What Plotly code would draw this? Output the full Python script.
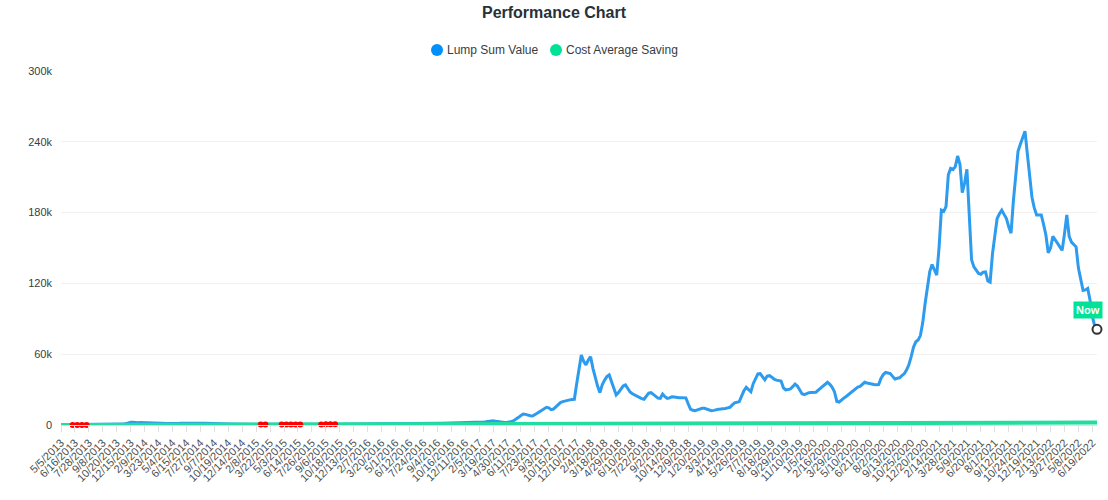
from datetime import datetime, timedelta
import plotly.graph_objects as go

# ---------------- data ----------------
tick_labels = [
    "5/5/2013", "6/16/2013", "7/28/2013", "9/8/2013", "10/20/2013", "12/15/2013",
    "2/9/2014", "3/23/2014", "5/4/2014", "6/15/2014", "7/27/2014", "9/7/2014",
    "10/19/2014", "12/14/2014", "2/8/2015", "3/22/2015", "5/3/2015", "6/14/2015",
    "7/26/2015", "9/6/2015", "10/18/2015", "12/13/2015", "2/7/2016", "3/20/2016",
    "5/1/2016", "6/12/2016", "7/24/2016", "9/4/2016", "10/16/2016", "12/11/2016",
    "2/5/2017", "3/19/2017", "4/30/2017", "6/11/2017", "7/23/2017", "9/3/2017",
    "10/15/2017", "12/10/2017", "2/4/2018", "3/18/2018", "4/29/2018", "6/10/2018",
    "7/22/2018", "9/2/2018", "10/14/2018", "12/9/2018", "1/20/2019", "3/3/2019",
    "4/14/2019", "5/26/2019", "7/7/2019", "8/18/2019", "9/29/2019", "11/10/2019",
    "1/5/2020", "2/16/2020", "3/29/2020", "5/10/2020", "6/21/2020", "8/2/2020",
    "9/13/2020", "10/25/2020", "12/20/2020", "2/14/2021", "3/28/2021", "5/9/2021",
    "6/20/2021", "8/1/2021", "9/12/2021", "10/24/2021", "12/19/2021", "2/13/2022",
    "3/27/2022", "5/8/2022", "6/19/2022",
]
weeks_per_label = 6
weeks_after_last = 3

# Lump Sum Value (thousands), one row per 6-week label group
lump_sum_k = [
    0.30, 0.30, 0.30, 0.30, 0.30, 0.28,
    0.26, 0.25, 0.23, 0.21, 0.20, 0.21,
    0.24, 0.26, 0.27, 0.28, 0.29, 0.30,
    0.32, 0.33, 0.34, 0.33, 0.35, 0.38,
    0.45, 0.52, 0.55, 0.75, 1.20, 1.90,
    2.40, 2.30, 1.90, 2.00, 2.10, 2.00,
    1.70, 1.55, 1.50, 1.55, 1.60, 1.50,
    1.40, 1.20, 1.15, 1.15, 1.20, 1.20,
    1.10, 1.10, 1.20, 1.40, 1.55, 1.60,
    1.50, 1.50, 1.50, 1.55, 1.55, 1.50,
    1.50, 1.45, 1.40, 1.30, 1.20, 1.20,
    1.20, 1.15, 1.00, 0.98, 0.95, 0.98,
    0.95, 0.88, 0.85, 0.90, 0.95, 0.90,
    0.88, 0.82, 0.80, 0.70, 0.68, 0.58,
    0.56, 0.57, 0.58, 0.60, 0.62, 0.65,
    0.65, 0.62, 0.60, 0.56, 0.56, 0.57,
    0.60, 0.60, 0.58, 0.57, 0.57, 0.58,
    0.58, 0.61, 0.63, 0.67, 0.71, 0.72,
    0.72, 0.71, 0.70, 0.64, 0.57, 0.57,
    0.60, 0.59, 0.57, 0.58, 0.59, 0.61,
    0.66, 0.74, 0.81, 0.91, 0.95, 1.01,
    1.08, 1.11, 1.08, 1.11, 1.11, 1.05,
    0.95, 0.98, 1.05, 1.08, 1.05, 1.01,
    1.01, 1.03, 1.05, 1.08, 1.11, 1.11,
    1.11, 1.11, 1.11, 1.22, 1.32, 1.48,
    1.69, 1.82, 1.62, 1.65, 1.65, 1.69,
    1.62, 1.52, 1.42, 1.42, 1.42, 1.48,
    1.52, 1.52, 1.48, 1.52, 1.52, 1.55,
    1.59, 1.69, 1.75, 1.75, 1.79, 1.82,
    1.89, 1.96, 2.23, 2.30, 2.23, 2.30,
    2.40, 2.50, 2.60, 2.80, 3.10, 3.40,
    3.60, 3.20, 2.80, 2.50, 2.30, 2.20,
    2.20, 2.50, 3.00, 3.80, 4.80, 6.50,
    8.0, 9.3, 9.0, 8.3, 7.8, 7.6,
    8.5, 10.0, 11.3, 12.5, 13.8, 15.0,
    14.5, 13.0, 13.5, 15.5, 17.5, 19.0,
    19.8, 20.5, 21.0, 21.3, 21.6, 21.8,
    35.0, 48.0, 59.3, 54.0, 51.0, 55.0,
    57.9, 48.0, 40.0, 33.0, 27.4, 34.0,
    38.0, 41.0, 42.4, 37.0, 31.0, 25.4,
    27.5, 30.0, 33.0, 33.9, 31.0, 28.0,
    26.5, 25.4, 24.0, 23.0, 22.3, 21.8,
    24.0, 27.0, 27.4, 26.0, 24.0, 22.8,
    22.6, 26.2, 24.0, 22.6, 23.0, 24.0,
    23.8, 23.3, 23.1, 23.1, 23.1, 23.0,
    18.0, 13.5, 12.5, 12.1, 12.8, 13.8,
    14.1, 14.1, 13.5, 12.7, 12.1, 12.4,
    13.0, 13.3, 13.5, 13.6, 14.0, 14.5,
    15.0, 17.0, 18.8, 19.2, 19.8, 24.5,
    29.0, 31.9, 30.0, 28.2, 35.0, 40.0,
    43.3, 43.5, 40.5, 38.3, 41.5, 41.8,
    40.5, 38.8, 38.0, 37.7, 37.3, 31.5,
    29.7, 30.0, 30.5, 32.5, 34.7, 33.0,
    29.5, 26.5, 25.8, 26.8, 27.4, 27.6,
    27.6, 27.8, 29.5, 31.1, 32.5, 34.0,
    36.2, 34.5, 32.0, 28.0, 20.0, 19.5,
    21.5, 22.8, 24.2, 25.8, 27.5, 29.5,
    31.3, 32.2, 32.7, 34.5, 36.2, 35.6,
    35.0, 34.7, 34.4, 34.1, 34.3, 39.5,
    42.8, 44.5, 44.3, 43.6, 41.2, 39.0,
    39.6, 40.0, 41.8, 43.4, 46.5, 51.0,
    58.0, 66.0, 70.5, 72.0, 76.0, 87.0,
    103.0, 119.0, 130.0, 136.0, 132.0, 127.0,
    150.0, 182.0, 181.0, 185.0, 212.0, 217.5,
    216.5, 219.0, 228.0, 221.0, 197.0, 205.0,
    216.7, 178.0, 140.0, 134.0, 131.0, 128.5,
    127.8, 129.5, 129.8, 122.0, 121.0, 145.0,
    160.0, 175.0, 179.0, 182.0, 178.5, 175.0,
    168.0, 162.5, 190.0, 212.0, 232.0, 238.0,
    244.0, 249.0, 230.0, 212.0, 193.0, 184.0,
    178.0, 178.0, 178.0, 170.0, 161.0, 146.0,
    150.0, 160.0, 157.0, 154.0, 150.0, 148.0,
    162.0, 178.0, 160.0, 155.0, 153.0, 151.0,
    133.0, 122.0, 114.0, 114.5, 115.8, 106.0,
    92.0, 84.0, 81.1,
]

# Cost Average Saving (dollars) at each labelled week, plus the final week
cost_avg = [
    0, 30, 55, 85, 110, 140, 165, 195, 220, 250, 275, 305, 330, 360, 385,
    415, 440, 470, 495, 525, 550, 580, 605, 635, 660, 690, 715, 745, 770, 800,
    825, 855, 880, 910, 935, 965, 990, 1020, 1045, 1075, 1100, 1130, 1155, 1185, 1210,
    1240, 1265, 1295, 1320, 1350, 1375, 1405, 1430, 1460, 1485, 1515, 1540, 1570, 1595, 1625,
    1650, 1680, 1705, 1735, 1760, 1790, 1815, 1845, 1870, 1900, 1925, 1955, 1980, 2010, 2035,
    2045,
]

# flagged weeks (red dots), by week number, with their saving value
red_weeks = [5, 7, 9, 11, 86, 88, 95, 97, 99, 101, 103, 112, 114, 116, 118]
red_vals = [24, 33, 42, 52, 405, 414, 447, 457, 466, 475, 485, 527, 536, 546, 555]

y_ticks = [0, 60000, 120000, 180000, 240000, 300000]
y_tick_text = ["0", "60k", "120k", "180k", "240k", "300k"]

legend_names = ["Lump Sum Value", "Cost Average Saving"]
legend_colors = ["#008FFB", "#00E396"]

# ---------------- categories ----------------
def fmt(d):
    return f"{d.month}/{d.day}/{d.year}"

categories = []
for k, lab in enumerate(tick_labels):
    d0 = datetime.strptime(lab, "%m/%d/%Y")
    n = weeks_per_label if k < len(tick_labels) - 1 else weeks_after_last
    for j in range(n):
        categories.append(fmt(d0 + timedelta(weeks=j)))

assert len(lump_sum_k) == len(categories), (len(lump_sum_k), len(categories))
lump_sum = [v * 1000 for v in lump_sum_k]
cost_x = tick_labels + [categories[-1]]
assert len(cost_x) == len(cost_avg)

BLUE = "#2d9cef"
GREEN = "#22dca0"
FONT = "Liberation Sans"

# plot area geometry (pixels) used to place the hand-drawn legend
W, H = 1108, 500
ML, MR, MT, MB = 61, 11, 71, 75
PW, PH = W - ML - MR, H - MT - MB


def px_to_paper_x(px):
    return (px - ML) / PW


def px_to_paper_y(py):
    return (H - MB - py) / PH


fig = go.Figure()
fig.add_trace(go.Scatter(
    x=categories, y=lump_sum, mode="lines", name=legend_names[0],
    line=dict(color=BLUE, width=3), showlegend=False, cliponaxis=False,
))
fig.add_trace(go.Scatter(
    x=cost_x, y=cost_avg, mode="lines", name=legend_names[1],
    line=dict(color=GREEN, width=4), showlegend=False, cliponaxis=False,
))
fig.add_trace(go.Scatter(
    x=[categories[i] for i in red_weeks], y=red_vals, mode="markers",
    marker=dict(color="#ff0000", size=6), showlegend=False, cliponaxis=False,
))
fig.add_trace(go.Scatter(
    x=[categories[-1]], y=[lump_sum[-1]], mode="markers",
    marker=dict(color="white", size=9, line=dict(color="#333333", width=2)),
    showlegend=False, cliponaxis=False,
))

# legend drawn as circles + text (ApexCharts-style spacing)
legend_y = px_to_paper_y(50)
legend_marker_px = [437, 556]
legend_text_px = [445, 564]
for name, col, mx, tx in zip(legend_names, legend_colors, legend_marker_px, legend_text_px):
    fig.add_shape(type="circle", xref="paper", yref="paper",
                  xsizemode="pixel", ysizemode="pixel",
                  xanchor=px_to_paper_x(mx), yanchor=legend_y,
                  x0=-6, x1=6, y0=-6, y1=6,
                  fillcolor=col, line=dict(width=0))
    fig.add_annotation(x=px_to_paper_x(tx), y=legend_y, xref="paper", yref="paper",
                       text=name, showarrow=False, xanchor="left", yanchor="middle",
                       font=dict(size=12, family=FONT, color="#373d3f"))

fig.add_annotation(
    x=categories[-1], y=lump_sum[-1], xref="x", yref="y",
    text="<b>Now</b>", showarrow=False, xshift=-9, yshift=19,
    bgcolor="#00E396", font=dict(color="white", size=11, family=FONT),
    borderpad=2,
)

fig.update_layout(
    width=W, height=H,
    margin=dict(l=ML, r=MR, t=MT, b=MB),
    paper_bgcolor="white", plot_bgcolor="white",
    font=dict(family=FONT, color="#373d3f", size=11),
    title=dict(text="<b>Performance Chart</b>", x=0.5, xanchor="center",
               y=1 - 12 / H, yanchor="middle", yref="container",
               font=dict(size=16, family=FONT, color="#263238")),
    showlegend=False,
    hovermode="x",
)
fig.update_xaxes(
    type="category", categoryorder="array", categoryarray=categories,
    range=[0, len(categories) - 1],
    tickmode="array", tickvals=tick_labels, ticktext=tick_labels,
    tickangle=-45, tickfont=dict(size=11, color="#4a4f51", family=FONT),
    ticks="outside", ticklen=6, tickcolor="#e0e0e0",
    showline=True, linecolor="#e0e0e0", linewidth=1,
    showgrid=False, zeroline=False, automargin=False,
)
fig.update_yaxes(
    range=[0, 300000], tickmode="array", tickvals=y_ticks, ticktext=y_tick_text,
    tickfont=dict(size=11, color="#373d3f", family=FONT),
    showgrid=True, gridcolor="#f1f1f1", gridwidth=1,
    zeroline=False, showline=False, ticklabelstandoff=8, automargin=False,
)

fig.write_html("out.html")
